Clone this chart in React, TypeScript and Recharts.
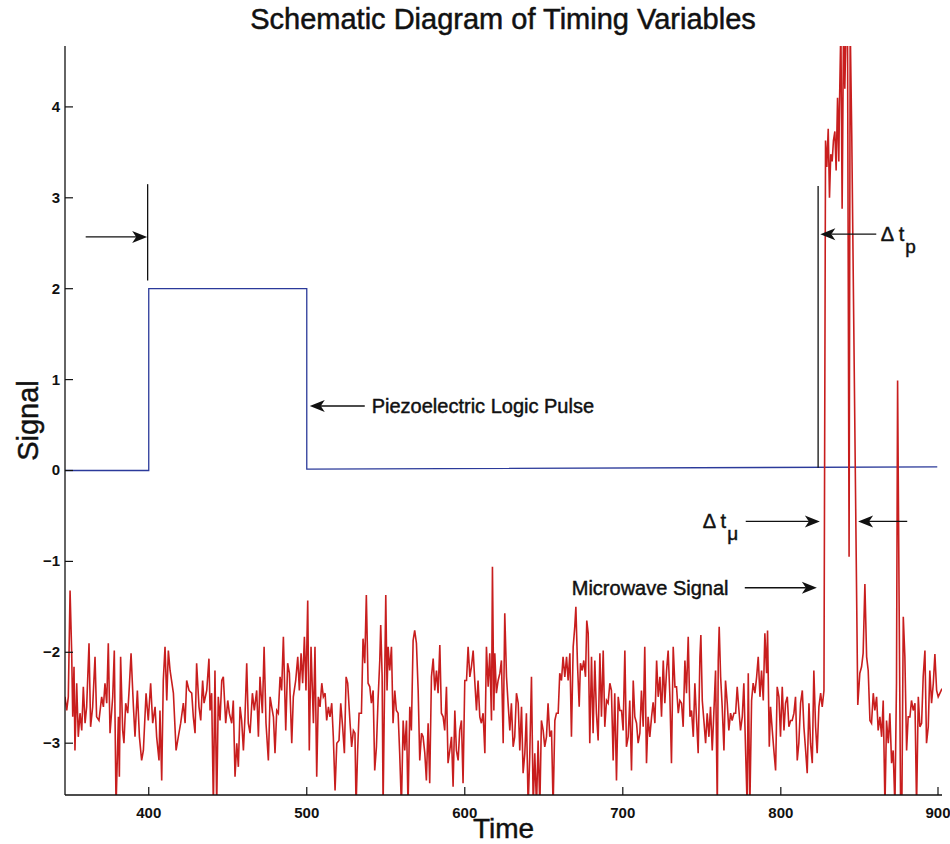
import React from "react";
import { LineChart, Line, XAxis, YAxis, ReferenceLine, ReferenceDot } from "recharts";

const xTicks = [400, 500, 600, 700, 800, 900];
const yTicks = [-3, -2, -1, 0, 1, 2, 3, 4];

// piezoelectric logic pulse (time, level)
const pulseTime = [347, 400, 400, 500, 500, 899];
const pulseLevel = [0, 0, 2.0, 2.0, 0.015, 0.04];

// microwave signal, [time, signal] in pieces
const traceA: [number, number][] = [
  [347.0, -2.49], [348.1, -2.64], [349.1, -2.49], [350.2, -1.32], [351.2, -1.98], [351.9, -2.71], [352.7, -2.16], [353.3, -3.08],
  [354.4, -2.34], [355.4, -2.93], [356.5, -2.67], [357.6, -2.86], [358.6, -2.38], [359.7, -2.78], [360.7, -2.6], [362.2, -1.9],
  [363.2, -2.82], [364.5, -2.6], [366.0, -2.05], [367.0, -2.71], [368.5, -2.75], [370.2, -2.49], [371.3, -2.6], [372.3, -2.34],
  [373.4, -2.56], [374.4, -1.9], [375.5, -2.89], [377.2, -2.49], [378.2, -1.98], [379.3, -3.7], [380.8, -2.71], [381.4, -3.37],
  [382.2, -2.05], [383.5, -2.86], [384.3, -3.0], [385.4, -2.56], [386.7, -2.67], [387.7, -2.38], [388.8, -2.01], [390.3, -2.6],
  [391.3, -2.93], [392.8, -2.42], [394.1, -2.93], [395.5, -3.19], [396.6, -3.08], [398.3, -2.45], [399.7, -2.75], [401.2, -2.34],
  [402.5, -2.78], [404.0, -2.6], [405.0, -2.93], [406.5, -3.19], [407.1, -2.64], [408.2, -3.41], [409.2, -2.31], [410.3, -1.94],
  [411.4, -2.53], [412.4, -1.98], [413.5, -2.2], [415.6, -2.45], [417.3, -3.08], [418.7, -2.93], [420.2, -2.78], [421.9, -2.56],
  [423.0, -2.78], [424.0, -2.31], [425.5, -2.42], [427.2, -2.45], [428.2, -2.71], [429.3, -2.89], [430.3, -2.12], [431.8, -2.6],
  [432.9, -2.75], [434.1, -2.31], [435.0, -2.56], [436.7, -2.42], [438.1, -2.07], [438.8, -2.64], [439.8, -2.45], [440.9, -3.7],
  [441.9, -2.2], [443.0, -3.7], [444.0, -2.49], [445.1, -2.75], [446.2, -2.31], [447.2, -2.27], [448.7, -2.78], [450.0, -2.53],
  [451.0, -2.67], [452.5, -2.78], [453.5, -2.53], [454.6, -3.37], [455.7, -3.0], [456.7, -3.26], [457.8, -2.6], [458.8, -2.75],
  [459.9, -3.08], [460.9, -2.71], [462.0, -2.12], [463.0, -2.78], [464.1, -2.89], [465.6, -2.45], [466.8, -2.64], [468.3, -2.42],
  [469.4, -2.93], [470.4, -2.27], [471.9, -2.67], [473.0, -1.94], [474.2, -2.78], [475.7, -3.19], [476.8, -2.49], [477.8, -2.6],
  [478.9, -2.71], [479.9, -3.11], [481.0, -2.64], [482.0, -2.67], [483.1, -2.27], [484.1, -2.42], [485.2, -1.83], [486.7, -2.86],
  [487.9, -2.12], [489.0, -2.23], [490.5, -3.0], [491.5, -2.49], [493.0, -2.31], [494.3, -2.05], [495.3, -2.42], [496.4, -2.01],
  [497.4, -2.34], [498.5, -1.83], [499.5, -2.42], [500.6, -1.43], [501.6, -3.08], [502.7, -1.94], [504.2, -2.78], [505.2, -1.94],
  [506.3, -3.37], [507.3, -2.49], [508.4, -2.6], [509.5, -2.34], [510.5, -2.49], [511.6, -2.45], [512.6, -2.75], [513.7, -2.6],
  [514.7, -2.71], [515.8, -2.56], [516.8, -2.93], [517.9, -3.52], [519.0, -3.0], [520.4, -2.97], [521.5, -2.56], [522.7, -2.82],
  [523.8, -3.11], [524.9, -2.27], [525.9, -2.34], [527.4, -2.78], [528.4, -3.04], [529.5, -2.86], [530.5, -2.89], [531.2, -3.7],
  [532.2, -3.08], [533.1, -2.67],
];

const traceB: [number, number][] = [
  [534.6, -2.67], [535.6, -1.85], [536.7, -2.12], [537.7, -1.37], [538.8, -2.34], [539.9, -2.38], [540.9, -2.56], [542.0, -2.42],
  [543.0, -3.3], [544.1, -3.04], [545.1, -2.53], [546.2, -2.09], [546.8, -1.7], [547.7, -2.27], [548.3, -3.7], [549.4, -2.16],
  [550.0, -1.37], [550.8, -2.42], [551.5, -1.94], [552.5, -2.2], [553.6, -1.94], [554.6, -2.78], [555.7, -2.42], [556.7, -2.64],
  [557.8, -2.67], [558.8, -3.11], [559.9, -3.7], [561.0, -2.75], [562.0, -3.08], [563.1, -2.75], [564.1, -3.7], [565.2, -2.6],
  [566.2, -2.86], [567.3, -1.87], [568.3, -1.76], [569.4, -1.9], [570.5, -2.42], [571.5, -3.19], [572.6, -2.89], [573.6, -2.93],
  [574.7, -3.11], [575.7, -3.41], [576.8, -2.78], [577.8, -3.44], [578.9, -2.27], [580.0, -2.07], [581.0, -2.42], [582.1, -2.2],
  [583.1, -2.45], [584.2, -1.92], [585.2, -2.67], [586.3, -2.71], [587.3, -2.86], [588.4, -2.38], [589.4, -3.22], [590.5, -3.08],
  [591.6, -2.93], [592.6, -3.48], [593.7, -2.64], [594.7, -3.08], [595.8, -3.19], [596.8, -2.86], [597.9, -2.75], [598.9, -3.44],
  [600.0, -2.31], [601.1, -2.31], [602.1, -1.94], [603.2, -2.27], [604.2, -2.16], [605.3, -1.98], [606.3, -2.31], [607.4, -2.64],
  [608.4, -2.31], [609.5, -2.71], [610.5, -2.78], [611.6, -2.67], [612.7, -3.11], [613.7, -1.94], [614.8, -2.38], [615.8, -2.01],
  [616.9, -2.75], [617.5, -1.06], [618.4, -2.64], [619.0, -2.01], [620.0, -2.45], [621.1, -2.31], [622.2, -2.23], [623.2, -2.09],
  [624.3, -3.0], [625.3, -1.57], [626.4, -2.27], [627.4, -2.56], [628.5, -2.86], [629.5, -2.56], [630.6, -3.04], [631.6, -2.93],
  [632.7, -2.45], [633.8, -2.56], [634.8, -3.08], [635.9, -2.6], [636.9, -3.33], [638.0, -3.11], [639.0, -2.67], [640.1, -3.7],
  [641.1, -3.15], [642.2, -2.27], [643.3, -3.7], [644.3, -3.11], [645.4, -3.7], [646.4, -2.97], [647.5, -3.7], [648.5, -2.75],
  [649.6, -2.86], [650.6, -3.04], [651.7, -2.93], [652.7, -2.56], [653.8, -2.93], [654.9, -2.86], [655.9, -3.7], [657.0, -2.75],
  [658.0, -2.67], [659.1, -2.67], [660.1, -2.23], [661.2, -2.31], [662.2, -2.05], [663.3, -2.27], [664.4, -2.05], [665.4, -2.31],
  [666.5, -2.01], [667.5, -2.93], [668.6, -1.94], [669.6, -1.72], [670.3, -1.5], [671.3, -2.12], [672.4, -2.6], [673.2, -2.12],
  [674.3, -2.2], [675.3, -2.09], [676.4, -2.27], [677.2, -1.65], [678.1, -1.79], [679.1, -3.0], [680.2, -2.05], [681.2, -2.89],
  [682.3, -2.09], [683.3, -2.67], [684.4, -2.97], [685.5, -2.01], [686.5, -2.71], [687.6, -1.98], [688.6, -2.82], [689.7, -2.53],
  [690.7, -2.56], [691.8, -2.34], [692.8, -2.42], [693.9, -3.19], [694.9, -2.45], [696.0, -3.41], [697.1, -2.49], [698.1, -2.64],
  [699.2, -2.64], [700.2, -2.86], [701.3, -1.98], [702.3, -3.04], [703.4, -2.93], [704.4, -2.53], [705.5, -3.3], [706.6, -2.31],
  [707.6, -2.71], [708.7, -2.78], [709.7, -3.0], [710.8, -2.89], [711.8, -2.42], [712.9, -2.82], [713.9, -1.94], [715.0, -3.22],
  [716.0, -2.71], [717.1, -2.93],
];

const traceC: [number, number][] = [
  [718.2, -2.71], [719.2, -2.55], [720.3, -2.78], [721.4, -2.09], [722.4, -2.49], [723.5, -2.27], [724.5, -2.71], [725.6, -2.09],
  [726.6, -2.56], [727.7, -2.2], [728.7, -1.98], [729.8, -2.49], [730.8, -3.22], [731.9, -1.94], [733.0, -2.38], [734.0, -2.38],
  [735.1, -2.67], [736.1, -2.53], [737.2, -2.56], [738.2, -2.82], [739.3, -2.09], [740.3, -2.45], [741.4, -1.83], [742.5, -2.71],
  [743.5, -2.64], [744.6, -2.93], [745.6, -2.34], [746.7, -2.75], [747.7, -3.11], [748.8, -2.05], [749.4, -1.81], [750.3, -2.53],
  [751.3, -2.75], [752.4, -3.0], [753.4, -2.67], [754.5, -2.93], [755.5, -2.6], [756.6, -3.08], [757.6, -2.67], [758.7, -2.2],
  [759.8, -3.7], [760.4, -2.09], [761.0, -1.72], [761.9, -2.27], [762.9, -2.6], [764.0, -3.08], [765.0, -2.31], [766.1, -2.56],
  [767.1, -2.86], [768.2, -2.67], [769.2, -2.75], [770.3, -2.67], [771.4, -2.67], [772.4, -2.38], [773.5, -2.64], [774.5, -2.86],
  [775.6, -2.71], [776.6, -2.34], [777.7, -3.08], [778.7, -3.7], [779.4, -2.23], [780.4, -3.7], [781.5, -2.53], [782.5, -2.34],
  [783.6, -2.45], [784.7, -2.27], [785.7, -2.05], [786.8, -2.49], [787.8, -2.2], [788.9, -2.53], [789.9, -1.79], [791.0, -2.23],
  [791.6, -1.76], [792.7, -3.04], [793.5, -2.6], [794.6, -2.86], [795.6, -3.08], [796.7, -3.3], [797.7, -2.38], [798.8, -2.49],
  [799.8, -2.93], [800.9, -2.38], [802.0, -2.86], [803.0, -2.56], [804.1, -2.49], [805.1, -2.82], [806.2, -2.75], [807.2, -2.75],
  [808.3, -2.67], [809.3, -2.49], [810.4, -3.19], [811.4, -3.0], [812.5, -2.56], [813.6, -2.42], [814.6, -2.82], [815.7, -3.08],
  [816.7, -3.33], [817.8, -2.56], [818.8, -3.0], [819.9, -3.22], [820.9, -2.2], [822.0, -2.82], [823.0, -3.11], [824.1, -2.6],
  [825.2, -2.45], [826.2, -2.6], [827.3, -2.42],
];

const burst: [number, number][] = [
  [828.3, 3.63], [829.1, 3.34], [830.0, 3.76], [830.8, 3.0], [831.6, 3.48], [832.5, 3.4], [833.3, 3.63], [834.2, 3.73],
  [835.0, 3.3], [835.9, 4.1], [836.7, 3.4], [837.1, 4.0], [838.0, 4.9], [838.8, 2.88], [839.7, 4.9], [840.5, 4.2],
  [841.3, 4.9], [842.2, 4.9], [843.2, -0.95], [843.9, 4.9], [844.9, 3.68], [848.7, -2.58],
];

const traceD: [number, number][] = [
  [850.0, -2.23], [851.1, -2.16], [852.1, -2.01], [853.2, -1.25], [854.3, -2.05], [855.3, -2.2], [856.4, -2.75], [857.4, -2.78],
  [858.5, -2.45], [859.5, -2.64], [860.6, -2.49], [861.6, -2.86], [862.7, -2.71], [863.8, -2.93], [864.8, -2.53], [865.9, -3.7],
  [866.9, -2.75], [868.0, -3.0], [869.0, -2.67], [870.1, -3.22], [871.1, -3.08], [872.2, -3.7], [873.2, -2.34], [873.9, 0.99],
  [874.9, -1.54], [875.8, -3.7], [876.6, -3.7], [877.5, -1.61], [878.5, -2.05], [879.6, -3.08], [880.6, -2.71], [881.7, -2.71],
  [882.7, -2.53], [883.8, -2.64], [884.9, -2.56], [885.9, -3.7], [887.0, -2.49], [888.0, -2.82], [889.1, -2.78], [890.1, -2.27],
  [891.2, -1.98], [892.2, -3.0], [893.3, -2.82], [894.3, -2.2], [895.4, -2.56], [896.5, -2.34], [897.5, -2.02], [898.6, -2.42],
  [899.6, -2.49], [900.7, -2.45], [902.0, -2.4],
];

const pulse = pulseTime.map((t, i) => ({ t, v: pulseLevel[i] }));
const microwave = [...traceA, ...traceB, ...traceC, ...burst, ...traceD].map(([t, v]) => ({ t, v }));

const W = 950;
const H = 844;
const PLOT_LEFT = 65;
const PLOT_TOP = 46;
const PLOT_BOTTOM = 795;
const FONT = '"Liberation Sans", Arial, Helvetica, sans-serif';
const INK = "#111";
// the scanned original has slightly heavy lettering
const HEAVY = { stroke: INK, strokeWidth: 0.45 };

const fmt = (v: number) => (v < 0 ? `\u2212${-v}` : `${v}`);

const YTick = ({ y, payload }: any) => (
  <g>
    <line x1={PLOT_LEFT} y1={y} x2={PLOT_LEFT + 8} y2={y} stroke={INK} strokeWidth={1.2} />
    <text x={PLOT_LEFT - 5} y={y + 5} textAnchor="end" fontFamily={FONT} fontSize={15} fontWeight="bold" fill={INK}>
      {fmt(payload.value)}
    </text>
  </g>
);

const XTick = ({ x, payload }: any) => (
  <g>
    <line x1={x} y1={PLOT_BOTTOM} x2={x} y2={PLOT_BOTTOM - 8} stroke={INK} strokeWidth={1.2} />
    <text x={x} y={PLOT_BOTTOM + 23} textAnchor="middle" fontFamily={FONT} fontSize={15} fontWeight="bold" fill={INK}>
      {payload.value}
    </text>
  </g>
);

// line with a notched, filled head at its second point
const Arrow = (p: any) => {
  const { x1, y1, x2, y2 } = p;
  const dx = x2 - x1;
  const dy = y2 - y1;
  const len = Math.hypot(dx, dy) || 1;
  const ux = dx / len;
  const uy = dy / len;
  const head = 15;
  const half = 6;
  const notch = 4;
  const bx = x2 - ux * head;
  const by = y2 - uy * head;
  const nx = x2 - ux * (head - notch);
  const ny = y2 - uy * (head - notch);
  const pts = `${x2},${y2} ${bx - uy * half},${by + ux * half} ${nx},${ny} ${bx + uy * half},${by - ux * half}`;
  return (
    <g>
      <line x1={x1} y1={y1} x2={nx} y2={ny} stroke={INK} strokeWidth={1.4} />
      <polygon points={pts} fill={INK} />
    </g>
  );
};

const note = (text: string, sub?: string) => (p: any) => (
  <text x={p.cx} y={p.cy + 7} fontFamily={FONT} fontSize={20} fill={INK} {...HEAVY}>
    <tspan>{text}</tspan>
    {sub && (
      <tspan dx={1} dy={12} fontSize={19}>
        {sub}
      </tspan>
    )}
  </text>
);

export default function App() {
  return (
    <div style={{ position: "absolute", left: 0, top: 0, width: W, height: H, background: "#fff" }}>
      <div
        style={{
          position: "absolute",
          left: 503,
          top: 3,
          transform: "translateX(-50%)",
          whiteSpace: "nowrap",
          fontFamily: FONT,
          fontSize: 29,
          lineHeight: "32px",
          color: INK,
          WebkitTextStroke: "0.5px #111",
        }}
      >
        Schematic Diagram of Timing Variables
      </div>
      <LineChart width={W} height={H} margin={{ top: PLOT_TOP, right: 8, bottom: 0, left: 0 }}>
        <XAxis
          dataKey="t"
          type="number"
          domain={[347, 902]}
          ticks={xTicks}
          allowDataOverflow
          height={H - PLOT_BOTTOM}
          axisLine={{ stroke: INK, strokeWidth: 1.3 }}
          tickLine={false}
          tick={<XTick />}
          label={(p: any) => (
            <text
              x={p.viewBox.x + p.viewBox.width / 2}
              y={838}
              textAnchor="middle"
              fontFamily={FONT}
              fontSize={28}
              fill={INK}
              {...HEAVY}
            >
              Time
            </text>
          )}
        />
        <YAxis
          dataKey="v"
          type="number"
          domain={[-3.57, 4.67]}
          ticks={yTicks}
          allowDataOverflow
          width={PLOT_LEFT}
          axisLine={{ stroke: INK, strokeWidth: 1.3 }}
          tickLine={false}
          tick={<YTick />}
          label={(p: any) => {
            const cy = p.viewBox.y + p.viewBox.height / 2;
            return (
              <text
                x={38}
                y={cy}
                transform={`rotate(-90 38 ${cy})`}
                textAnchor="middle"
                fontFamily={FONT}
                fontSize={29}
                fill={INK}
                {...HEAVY}
              >
                Signal
              </text>
            );
          }}
        />

        <Line
          data={pulse}
          dataKey="v"
          stroke="#2b3a9a"
          strokeWidth={1.3}
          dot={false}
          type="linear"
          isAnimationActive={false}
        />
        <Line
          data={microwave}
          dataKey="v"
          stroke="#c81e1e"
          strokeWidth={1.6}
          dot={false}
          type="linear"
          isAnimationActive={false}
        />

        <ReferenceLine segment={[{ x: 399.3, y: 2.09 }, { x: 399.3, y: 3.15 }]} stroke={INK} strokeWidth={1.3} />
        <ReferenceLine segment={[{ x: 823.6, y: 0.03 }, { x: 823.6, y: 3.13 }]} stroke={INK} strokeWidth={1.3} />

        <ReferenceLine segment={[{ x: 360.1, y: 2.57 }, { x: 399.0, y: 2.57 }]} shape={Arrow} />
        <ReferenceLine segment={[{ x: 536.7, y: 0.71 }, { x: 501.9, y: 0.71 }]} shape={Arrow} />
        <ReferenceLine segment={[{ x: 860.4, y: 2.6 }, { x: 825.0, y: 2.6 }]} shape={Arrow} />
        <ReferenceLine segment={[{ x: 777.8, y: -0.56 }, { x: 824.7, y: -0.56 }]} shape={Arrow} />
        <ReferenceLine segment={[{ x: 880.0, y: -0.56 }, { x: 848.9, y: -0.56 }]} shape={Arrow} />
        <ReferenceLine segment={[{ x: 777.2, y: -1.29 }, { x: 822.8, y: -1.29 }]} shape={Arrow} />

        <ReferenceDot x={541.1} y={0.71} r={0} shape={note("Piezoelectric Logic Pulse")} />
        <ReferenceDot x={667.7} y={-1.29} r={0} shape={note("Microwave Signal")} />
        <ReferenceDot x={863.3} y={2.6} r={0} shape={note("\u0394 t", "p")} />
        <ReferenceDot x={750.6} y={-0.56} r={0} shape={note("\u0394 t", "\u03bc")} />
      </LineChart>
    </div>
  );
}
